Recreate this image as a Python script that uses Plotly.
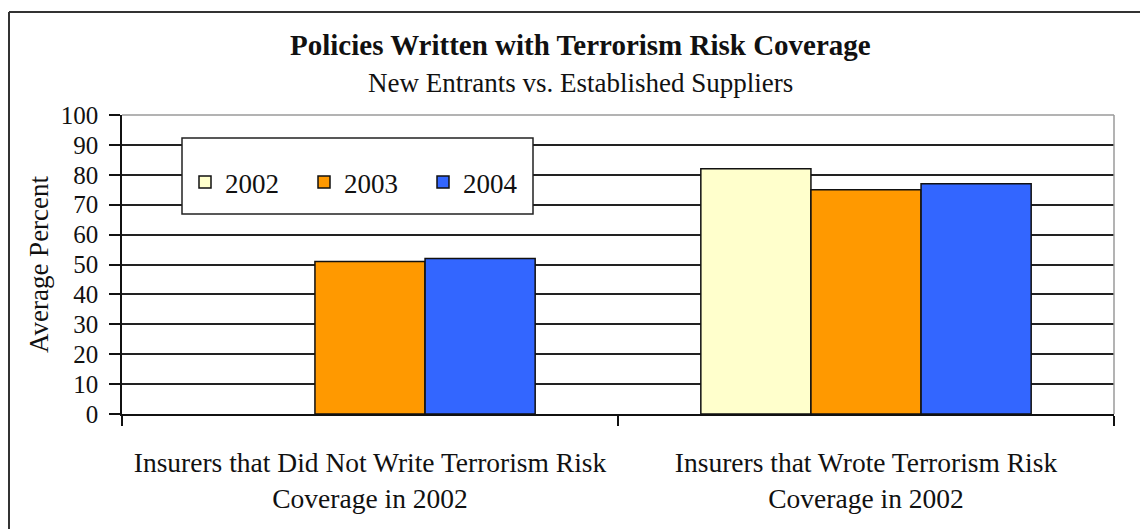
import plotly.graph_objects as go

categories = ["Insurers that Did Not Write Terrorism Risk<br>Coverage in 2002",
              "Insurers that Wrote Terrorism Risk<br>Coverage in 2002"]
years = ["2002", "2003", "2004"]
values_2002 = [None, 82]
values_2003 = [51, 75]
values_2004 = [52, 77]
colors = ["#FFFFCC", "#FF9900", "#3366FF"]
y_ticks = [0, 10, 20, 30, 40, 50, 60, 70, 80, 90, 100]

title_text = "Policies Written with Terrorism Risk Coverage"
subtitle_text = "New Entrants vs. Established Suppliers"
y_title = "Average Percent"

FONT = "Liberation Serif, Times New Roman, serif"

fig = go.Figure()
for name, vals, col in zip(years, [values_2002, values_2003, values_2004], colors):
    fig.add_trace(go.Bar(
        name=name, x=categories, y=vals,
        marker=dict(color=col, line=dict(color="#111111", width=1.5)),
    ))

# plot area geometry (px): left 122, right 1114, top 115, bottom 414
L, R, T, B = 122, 1114, 115, 414
W, H = R - L, B - T

def px(x):
    return (x - L) / W

def py(y):
    return (B - y) / H

shapes = [
    # outer frame
    dict(type="line", xref="paper", yref="paper", x0=px(9), x1=px(1150), y0=py(12), y1=py(12),
         line=dict(color="#333333", width=2)),
    dict(type="line", xref="paper", yref="paper", x0=px(9), x1=px(9), y0=py(12), y1=py(540),
         line=dict(color="#333333", width=2)),
    # plot area top/right border (gray)
    dict(type="line", xref="paper", yref="paper", x0=0, x1=1, y0=1, y1=1,
         line=dict(color="#9a9a9a", width=1.5)),
    dict(type="line", xref="paper", yref="paper", x0=1, x1=1, y0=0, y1=1,
         line=dict(color="#9a9a9a", width=1.5)),
    # legend box
    dict(type="rect", xref="paper", yref="paper", x0=px(182), x1=px(533), y0=py(214), y1=py(138),
         fillcolor="white", line=dict(color="#222222", width=1.5), layer="above"),
]

annotations = [
    dict(text="<b>" + title_text + "</b>", xref="paper", yref="paper", x=px(580), y=py(45),
         showarrow=False, xanchor="center", yanchor="middle",
         font=dict(family=FONT, size=29, color="#111111")),
    dict(text=subtitle_text, xref="paper", yref="paper", x=px(580), y=py(83),
         showarrow=False, xanchor="center", yanchor="middle",
         font=dict(family=FONT, size=27, color="#111111")),
]

fig.update_layout(
    width=1140, height=529,
    margin=dict(l=L, r=1140 - R, t=T, b=529 - B),
    paper_bgcolor="white", plot_bgcolor="white",
    barmode="group", bargap=0.334, bargroupgap=0,
    font=dict(family=FONT, size=25, color="#111111"),
    shapes=shapes, annotations=annotations,
    showlegend=True,
    legend=dict(orientation="h", x=px(185), y=py(158), xanchor="left", yanchor="top",
                bgcolor="rgba(0,0,0,0)", borderwidth=0,
                font=dict(family=FONT, size=27, color="#111111"),
                entrywidth=74, entrywidthmode="pixels"),
)

fig.update_yaxes(
    range=[0, 100], tickvals=y_ticks, ticks="outside", ticklen=11, tickwidth=1.5, tickcolor="#111111",
    showline=True, linecolor="#111111", linewidth=1.5,
    showgrid=True, gridcolor="#222222", gridwidth=1.5,
    zeroline=False, fixedrange=True,
    tickfont=dict(family=FONT, size=25, color="#111111"),
    ticklabelstandoff=6,
    title=dict(text=y_title, font=dict(family=FONT, size=27, color="#111111"), standoff=4),
)
fig.update_xaxes(
    ticks="outside", ticklen=10, tickwidth=1.5, tickcolor="#111111", tickson="boundaries",
    showline=True, linecolor="#111111", linewidth=1.5, showgrid=False,
    tickfont=dict(family=FONT, size=27.5, color="#111111"),
    ticklabelstandoff=23,
)

fig.write_html("out.html")
